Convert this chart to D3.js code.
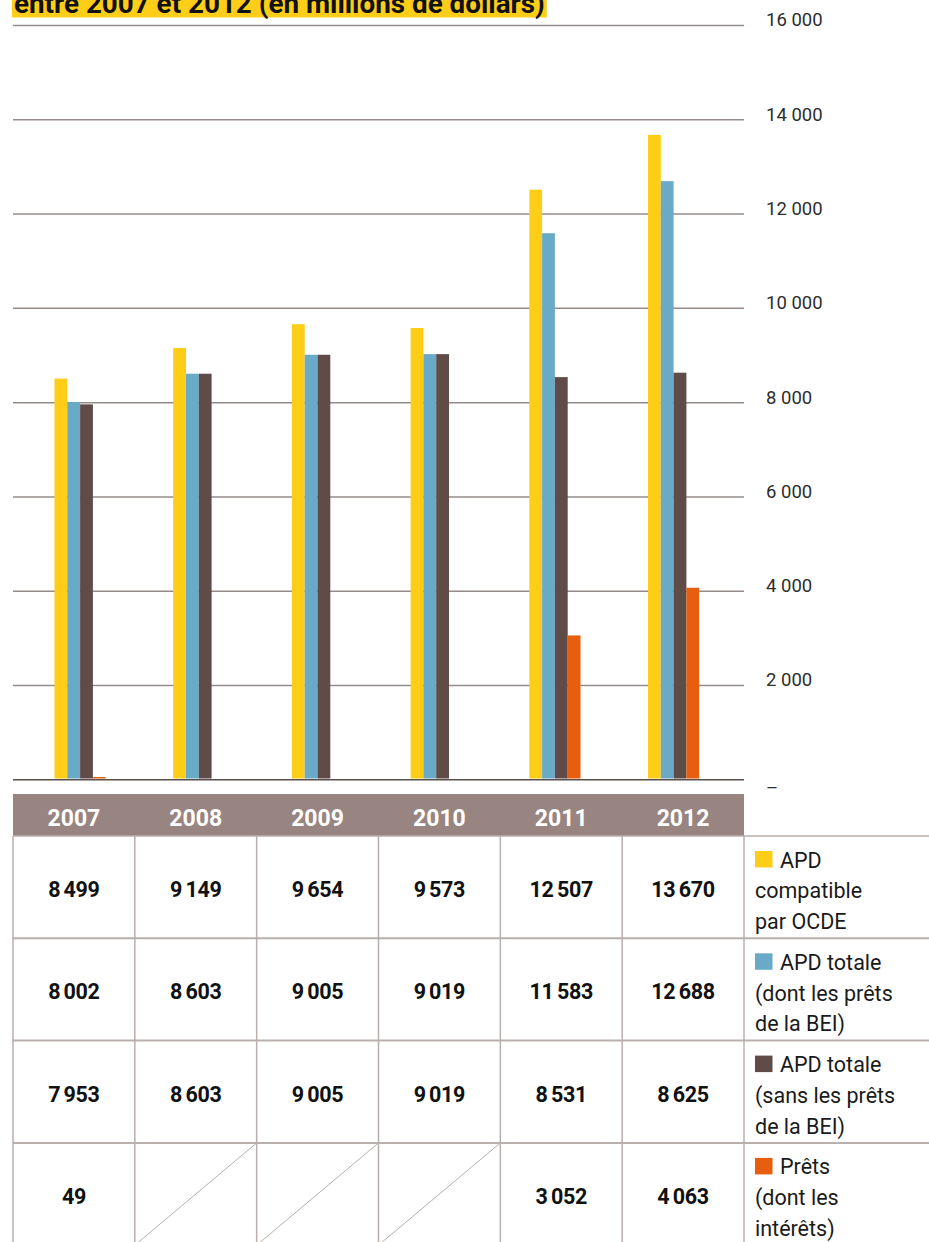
<!DOCTYPE html>
<html>
<head>
<meta charset="utf-8">
<script src="https://cdn.jsdelivr.net/npm/d3@7"></script>
<style>
  html, body { margin: 0; padding: 0; background: #fff; }
  svg { display: block; font-family: Roboto, "Noto Sans", sans-serif; }
</style>
</head>
<body>
<svg id="chart" width="929" height="1242"></svg>
<script>
// ---- data ----
const years = ["2007", "2008", "2009", "2010", "2011", "2012"];
const apdCompatible = [8499, 9149, 9654, 9573, 12507, 13670];
const apdTotale = [8002, 8603, 9005, 9019, 11583, 12688];
const apdSansBEI = [7953, 8603, 9005, 9019, 8531, 8625];
const prets = [49, null, null, null, 3052, 4063];
const seriesKeys = ["compatible", "totale", "sansBEI", "prets"];
const seriesColors = ["#fecd17", "#6aaac9", "#5f4b48", "#e85e0f"];
const legendLabels = [
  ["APD", "compatible", "par OCDE"],
  ["APD totale", "(dont les prêts", "de la BEI)"],
  ["APD totale", "(sans les prêts", "de la BEI)"],
  ["Prêts", "(dont les", "intérêts)"]
];
const yTicks = [0, 2000, 4000, 6000, 8000, 10000, 12000, 14000, 16000];
const titleText = "entre 2007 et 2012 (en millions de dollars)";

const seriesValues = [apdCompatible, apdTotale, apdSansBEI, prets];

// ---- layout ----
const svg = d3.select("#chart");
const plotLeft = 13, plotRight = 744;
const y = d3.scaleLinear().domain([0, 16000]).range([779.3, 25]);
const xGroup = d3.scaleBand().domain(years).range([54.5, 54.5 + 6 * 118.7]).paddingInner(0).paddingOuter(0);
const xSeries = d3.scaleBand().domain(seriesKeys).range([0, 51.2]);
const xCol = d3.scaleBand().domain(years).range([plotLeft, plotRight]);

const axisLocale = d3.formatLocale({decimal: ",", thousands: "\u00a0", grouping: [3], currency: ["", ""]});
const tableLocale = d3.formatLocale({decimal: ",", thousands: "\u2006", grouping: [3], currency: ["", ""]});
const fmtAxis = axisLocale.format(",d");
const fmtTable = tableLocale.format(",d");

// ---- title ----
const titleG = svg.append("g");
const titleRect = titleG.append("rect").attr("fill", "#fecd17");
const title = titleG.append("text")
  .attr("x", 14).attr("y", 12.5)
  .attr("font-size", 24).attr("font-weight", 700).attr("fill", "#111")
  .text(titleText);
const tw0 = title.node().getComputedTextLength();
const titleSize = 24 * 531 / tw0;
title.attr("font-size", titleSize);
const tw = title.node().getComputedTextLength();
titleRect.attr("x", 12).attr("y", -14).attr("width", tw + 4).attr("height", 31.5);

// ---- gridlines + axis ----
const axis = d3.axisRight(y)
  .tickValues(yTicks)
  .tickSize(plotRight - plotLeft)
  .tickPadding(22)
  .tickFormat(d => d === 0 ? "–" : fmtAxis(d));
const axisG = svg.append("g")
  .attr("transform", `translate(${plotLeft},0)`)
  .call(axis);
axisG.select(".domain").remove();
axisG.selectAll(".tick line")
  .attr("stroke", d => d === 0 ? "#5a4f4c" : "#958c8a")
  .attr("stroke-width", 1.5);
axisG.selectAll(".tick text")
  .attr("font-size", 18.5)
  .attr("fill", "#2d2d2d")
  .attr("font-family", "Roboto, sans-serif")
  .attr("dy", d => d === 0 ? "0.75em" : "0.05em");

// ---- bars ----
const barData = [];
years.forEach((yr, i) => {
  seriesKeys.forEach((k, j) => {
    const v = seriesValues[j][i];
    if (v != null) barData.push({year: yr, key: k, value: v, color: seriesColors[j]});
  });
});
svg.append("g").selectAll("rect")
  .data(barData)
  .join("rect")
  .attr("x", d => xGroup(d.year) + xSeries(d.key))
  .attr("width", xSeries.bandwidth())
  .attr("y", d => y(d.value))
  .attr("height", d => Math.max(0, y(0) - y(d.value) - 0.8))
  .attr("fill", d => d.color);

// ---- table header ----
const headTop = 794, headBottom = 836;
svg.append("rect")
  .attr("x", plotLeft).attr("y", headTop)
  .attr("width", plotRight - plotLeft).attr("height", headBottom - headTop)
  .attr("fill", "#988581");
svg.append("g").selectAll("text")
  .data(years)
  .join("text")
  .attr("x", d => xCol(d) + xCol.bandwidth() / 2)
  .attr("y", 826)
  .attr("text-anchor", "middle")
  .attr("font-size", 23).attr("font-weight", 700).attr("fill", "#fff")
  .text(d => d);

// ---- table body ----
const rowH = 102.3;
const rowTop = i => headBottom + i * rowH;
const border = "#b9afad";
const tableG = svg.append("g");

[0, 1, 2, 3].forEach(i => {
  tableG.append("line")
    .attr("x1", plotLeft).attr("x2", 929)
    .attr("y1", rowTop(i)).attr("y2", rowTop(i))
    .attr("stroke", border).attr("stroke-width", i === 0 ? 1.5 : 2);
});
const vx = years.map(d => xCol(d)).concat([plotRight]);
vx.forEach(x => {
  tableG.append("line")
    .attr("x1", x).attr("x2", x)
    .attr("y1", headBottom).attr("y2", 1242)
    .attr("stroke", border).attr("stroke-width", 1.5);
});

seriesValues.forEach((vals, r) => {
  vals.forEach((v, c) => {
    const x0 = xCol(years[c]);
    if (v == null) {
      tableG.append("line")
        .attr("x1", x0).attr("y1", rowTop(r + 1))
        .attr("x2", x0 + xCol.bandwidth()).attr("y2", rowTop(r))
        .attr("stroke", border).attr("stroke-width", 1);
    } else {
      tableG.append("text")
        .attr("x", x0 + xCol.bandwidth() / 2)
        .attr("y", rowTop(r) + 61)
        .attr("text-anchor", "middle")
        .attr("font-size", 21.5).attr("font-weight", 700).attr("fill", "#111")
        .attr("letter-spacing", -0.3)
        .text(fmtTable(v));
    }
  });
});

legendLabels.forEach((lines, r) => {
  const top = rowTop(r);
  tableG.append("rect")
    .attr("x", 755).attr("y", top + 15)
    .attr("width", 17.5).attr("height", 16.5)
    .attr("fill", seriesColors[r]);
  const t = tableG.append("text")
    .attr("font-size", 21.5).attr("fill", "#1a1a1a");
  lines.forEach((ln, k) => {
    t.append("tspan")
      .attr("x", k === 0 ? 780 : 755)
      .attr("y", top + 31.5 + k * 30.7)
      .text(ln);
  });
});
</script>
</body>
</html>
